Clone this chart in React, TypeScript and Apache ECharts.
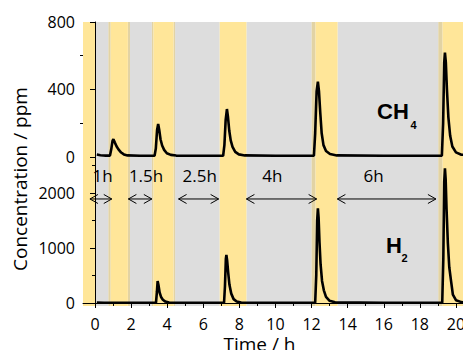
import React, { useEffect, useRef } from "react";
import * as echarts from "echarts";

// ---- axis settings ----
const xMin = -0.665;
const xMax = 21;
const xTicks = [0, 2, 4, 6, 8, 10, 12, 14, 16, 18, 20];
const xMinorTicks = [1, 3, 5, 7, 9, 11, 13, 15, 17, 19];
const ch4Ticks = [0, 400, 800];
const ch4MinorTicks = [200, 600];
const h2Ticks = [0, 1000, 2000];
const h2MinorTicks = [500, 1500, 2500];

// ---- series data [time h, ppm] ----
const ch4Data = [
  [0.1, 14], [0.3, 10], [0.6, 8], [0.83, 8], [0.9, 45], [0.97, 95], [1.02, 105], [1.1, 85],
  [1.2, 62], [1.3, 45], [1.45, 26], [1.6, 15], [1.8, 9], [2.5, 7], [3.3, 7], [3.37, 50],
  [3.44, 160], [3.5, 196], [3.56, 160], [3.63, 105], [3.72, 68], [3.83, 42], [3.98, 22],
  [4.2, 12], [4.5, 8], [5.5, 7], [7.1, 7], [7.17, 70], [7.24, 220], [7.31, 284], [7.37, 235],
  [7.44, 155], [7.52, 98], [7.62, 60], [7.77, 30], [7.97, 15], [8.3, 9], [10, 7], [12.13, 7],
  [12.2, 140], [12.28, 390], [12.35, 446], [12.41, 390], [12.48, 265], [12.56, 140],
  [12.66, 70], [12.8, 35], [13.02, 17], [13.4, 9], [16, 7], [19.22, 7], [19.29, 200],
  [19.35, 560], [19.39, 618], [19.44, 560], [19.5, 400], [19.58, 235], [19.68, 125],
  [19.8, 62], [20.0, 27], [20.3, 13], [21, 9],
];
const h2Data = [
  [0.1, 10], [0.5, 5], [1.5, 5], [3.38, 5], [3.43, 200], [3.47, 400], [3.52, 320], [3.58, 190],
  [3.66, 110], [3.76, 60], [3.9, 25], [4.1, 8], [5.5, 5], [7.15, 5], [7.2, 300], [7.25, 800],
  [7.28, 873], [7.32, 780], [7.38, 550], [7.45, 330], [7.55, 170], [7.68, 70], [7.85, 25],
  [8.1, 8], [10, 5], [12.2, 5], [12.26, 500], [12.31, 1500], [12.35, 1721], [12.39, 1550],
  [12.44, 1100], [12.5, 700], [12.58, 400], [12.68, 230], [12.8, 110], [13.0, 40], [13.3, 12],
  [16, 5], [19.24, 5], [19.3, 800], [19.35, 2200], [19.39, 2450], [19.43, 2250], [19.48, 1700],
  [19.55, 1100], [19.63, 650], [19.72, 420], [19.83, 150], [20.0, 50], [20.3, 15], [21, 8],
];

// ---- background bands (time ranges) ----
const grayBands = [[0, 0.74], [1.94, 3.15], [4.44, 6.91], [8.39, 12.0], [13.44, 19.02]];
const tanBands = [[0.74, 0.87], [1.82, 1.94], [3.15, 3.24], [4.35, 4.44], [12.0, 12.22], [19.02, 19.26]];
const yellowBands = [[-0.665, 0], [0.87, 1.82], [3.24, 4.35], [6.91, 8.39], [12.22, 13.44], [19.26, 21]];

// ---- arrows between heating periods ----
const arrowSpans = [[-0.28, 0.93], [1.85, 3.15], [4.63, 6.85], [8.39, 12.28], [13.43, 18.89]];
const arrowLabels = ["1h", "1.5h", "2.5h", "4h", "6h"];
const arrowLabelX = [0.42, 2.83, 5.8, 9.83, 15.44];
const arrowY = 1891;
const arrowLabelY = 2309;

const GRAY = "#dddddd";
const TAN = "#e2d3a4";
const YELLOW = "#ffe699";
const FONT = "'Open Sans', 'Noto Sans', sans-serif";

function bandAreas() {
  const mk = (bands: number[][], color: string) =>
    bands.map(([a, b]) => [{ xAxis: a, itemStyle: { color } }, { xAxis: b }]);
  return [...mk(grayBands, GRAY), ...mk(tanBands, TAN), ...mk(yellowBands, YELLOW)];
}

export default function App() {
  const ref = useRef<HTMLDivElement>(null);
  useEffect(() => {
    if (!ref.current) return;
    const chart = echarts.init(ref.current, null, { renderer: "svg" });
    const axisLine = { show: true, lineStyle: { color: "#000", width: 1 } };
    const labelStyle = { color: "#000", fontSize: 16, fontFamily: FONT, formatter: (v: number) => String(v) };
    const option: any = {
      animation: false,
      backgroundColor: "#fff",
      grid: [
        { left: 83, top: 22, width: 391, height: 141, outerBoundsMode: "none" },
        { left: 83, top: 163, width: 391, height: 143, outerBoundsMode: "none" },
      ],
      xAxis: [
        { type: "value", gridIndex: 0, min: xMin, max: xMax, show: false, splitLine: { show: false } },
        {
          type: "value", gridIndex: 1, min: xMin, max: xMax, position: "bottom", z: 5,
          axisLine, splitLine: { show: false },
          axisTick: { show: true, length: 5, customValues: xTicks, lineStyle: { color: "#000" } },
          axisLabel: { ...labelStyle, margin: 10, customValues: xTicks },
        },
        {
          type: "value", gridIndex: 1, min: xMin, max: xMax, position: "bottom", z: 5,
          axisLine: { show: false }, splitLine: { show: false }, axisLabel: { show: false },
          axisTick: { show: true, length: 3, customValues: xMinorTicks, lineStyle: { color: "#000" } },
        },
      ],
      yAxis: [
        {
          type: "value", gridIndex: 0, min: -36, max: 800, position: "left", z: 5,
          axisLine, splitLine: { show: false },
          axisTick: { show: true, length: 5, customValues: ch4Ticks, lineStyle: { color: "#000" } },
          axisLabel: { ...labelStyle, margin: 8, customValues: ch4Ticks },
        },
        {
          type: "value", gridIndex: 0, min: -36, max: 800, position: "left", z: 5,
          axisLine: { show: false }, splitLine: { show: false }, axisLabel: { show: false },
          axisTick: { show: true, length: 3, customValues: ch4MinorTicks, lineStyle: { color: "#000" } },
        },
        {
          type: "value", gridIndex: 1, min: -55, max: 2545, position: "left", z: 5,
          axisLine, splitLine: { show: false },
          axisTick: { show: true, length: 5, customValues: h2Ticks, lineStyle: { color: "#000" } },
          axisLabel: { ...labelStyle, margin: 8, customValues: h2Ticks },
        },
        {
          type: "value", gridIndex: 1, min: -55, max: 2545, position: "left", z: 5,
          axisLine: { show: false }, splitLine: { show: false }, axisLabel: { show: false },
          axisTick: { show: true, length: 3, customValues: h2MinorTicks, lineStyle: { color: "#000" } },
        },
      ],
      series: [
        {
          type: "line", xAxisIndex: 0, yAxisIndex: 0, data: [], z: 1, silent: true,
          markArea: { silent: true, label: { show: false }, data: bandAreas() },
        },
        {
          type: "line", xAxisIndex: 1, yAxisIndex: 2, data: [], z: 1, silent: true,
          markArea: { silent: true, label: { show: false }, data: bandAreas() },
        },
        {
          name: "CH4", type: "line", xAxisIndex: 0, yAxisIndex: 0, data: ch4Data, z: 3,
          showSymbol: false, symbol: "none", lineStyle: { color: "#000", width: 2.6 },
          itemStyle: { color: "#000" }, clip: true,
        },
        {
          name: "H2", type: "line", xAxisIndex: 1, yAxisIndex: 2, data: h2Data, z: 3,
          showSymbol: false, symbol: "none", lineStyle: { color: "#000", width: 2.6 },
          itemStyle: { color: "#000" }, clip: true,
        },
        {
          type: "custom", xAxisIndex: 1, yAxisIndex: 2, z: 4, silent: true,
          data: arrowSpans.map((s, i) => [s[0], s[1], arrowY, arrowLabelX[i], arrowLabelY]),
          encode: { x: [0, 1, 3], y: [2, 4] },
          renderItem: (params: any, api: any) => {
            const a = api.coord([api.value(0), api.value(2)]);
            const b = api.coord([api.value(1), api.value(2)]);
            const t = api.coord([api.value(3), api.value(4)]);
            const y = a[1];
            const st = { stroke: "#000", lineWidth: 1, fill: "none" };
            return {
              type: "group",
              children: [
                { type: "line", shape: { x1: a[0], y1: y, x2: b[0], y2: y }, style: st },
                { type: "polyline", shape: { points: [[a[0] + 8, y - 4.5], [a[0], y], [a[0] + 8, y + 4.5]] }, style: st },
                { type: "polyline", shape: { points: [[b[0] - 8, y - 4.5], [b[0], y], [b[0] - 8, y + 4.5]] }, style: st },
                {
                  type: "text", x: t[0], y: t[1],
                  style: {
                    text: arrowLabels[params.dataIndex], fill: "#000", fontSize: 17,
                    fontFamily: FONT, align: "center", verticalAlign: "middle",
                  },
                },
              ],
            };
          },
        },
      ],
      graphic: [
        {
          type: "text", x: 19.6, y: 179, rotation: Math.PI / 2,
          style: { text: "Concentration / ppm", fill: "#000", fontSize: 19, fontFamily: FONT, align: "center", verticalAlign: "middle" },
        },
        {
          type: "text", x: 259.5, y: 344,
          style: { text: "Time / h", fill: "#000", fontSize: 19, lineHeight: 18, fontFamily: FONT, align: "center", verticalAlign: "middle" },
        },
        {
          type: "text", x: 377, y: 111.5, z: 10,
          style: { text: "CH", fill: "#000", fontSize: 22, fontWeight: "bold", fontFamily: "'Liberation Sans', Arial, sans-serif", align: "left", verticalAlign: "middle" },
        },
        {
          type: "text", x: 410.5, y: 124.7, z: 10,
          style: { text: "4", fill: "#000", fontSize: 11, fontWeight: "bold", fontFamily: "'Liberation Sans', Arial, sans-serif", align: "left", verticalAlign: "middle" },
        },
        {
          type: "text", x: 386, y: 245, z: 10,
          style: { text: "H", fill: "#000", fontSize: 22, fontWeight: "bold", fontFamily: "'Liberation Sans', Arial, sans-serif", align: "left", verticalAlign: "middle" },
        },
        {
          type: "text", x: 401.5, y: 257.5, z: 10,
          style: { text: "2", fill: "#000", fontSize: 11, fontWeight: "bold", fontFamily: "'Liberation Sans', Arial, sans-serif", align: "left", verticalAlign: "middle" },
        },
      ],
    };
    chart.setOption(option);
    return () => chart.dispose();
  }, []);
  return (
    <div style={{ position: "fixed", left: 0, top: 0, width: 463, height: 350, overflow: "hidden", background: "#fff" }}>
      <div ref={ref} style={{ width: 480, height: 350 }} />
    </div>
  );
}
